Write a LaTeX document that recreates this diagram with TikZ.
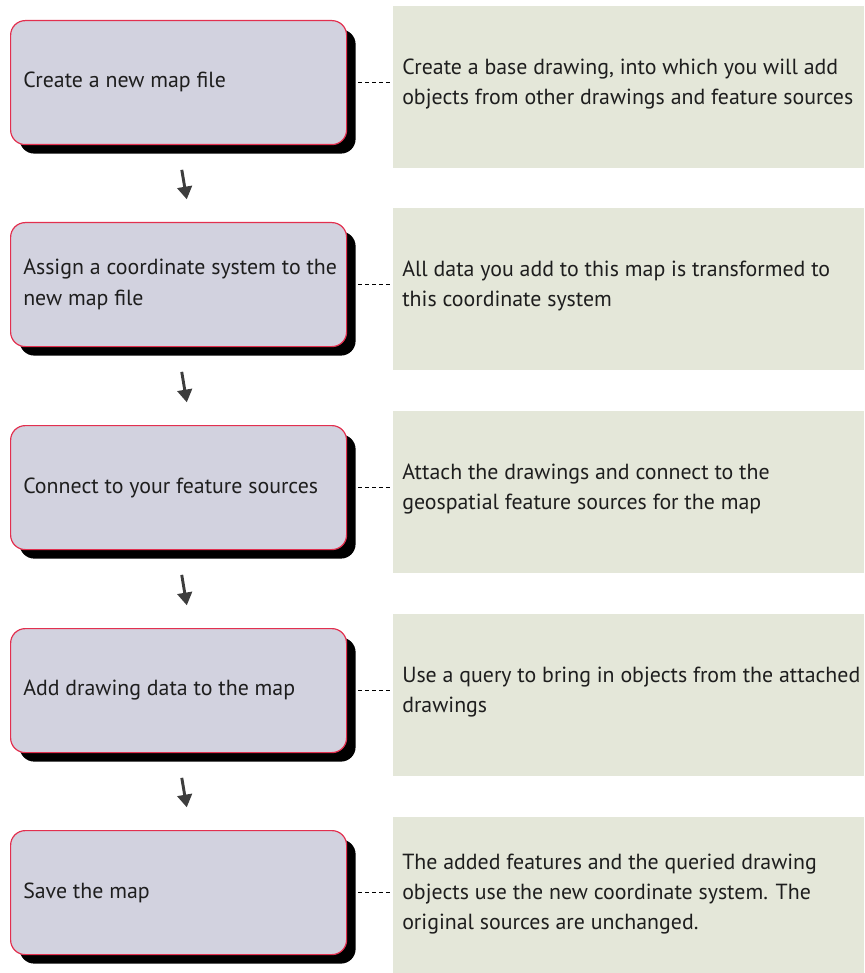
\documentclass[tikz,border=0pt]{standalone}
\usepackage{fontspec}
\setmainfont{PT Sans}
\usetikzlibrary{arrows.meta,shadows}

\definecolor{stepfill}{HTML}{D2D2DF}
\definecolor{stepedge}{HTML}{E2304F}
\definecolor{notefill}{HTML}{E4E7D9}
\definecolor{arrowgray}{HTML}{3D3D3D}
\definecolor{inkcol}{HTML}{1E1E1E}

\tikzset{
  stepbox/.style={draw=stepedge, line width=0.9pt, fill=stepfill,
    rounded corners=11pt, minimum width=252pt, minimum height=93pt,
    anchor=north west, inner sep=0pt,
    drop shadow={shadow xshift=6.75pt, shadow yshift=-6.75pt, fill=black, opacity=1}},
  notebox/.style={fill=notefill, minimum width=353.25pt, anchor=north west, inner sep=0pt},
  boxtext/.style={anchor=west, align=left, inner sep=0pt, text=inkcol,
    font=\fontsize{16.4}{23}\selectfont},
  notetext/.style={anchor=west, align=left, inner sep=0pt, text=inkcol,
    font=\fontsize{16.4}{22.2}\selectfont},
  linkline/.style={draw=black, line width=0.75pt, dash pattern=on 3pt off 2.2pt,
    shorten <=8.25pt, shorten >=2.25pt},
  flowarrow/.style={draw=arrowgray, line width=2.2pt,
    -{Triangle[length=9.5pt, width=11pt]},
    shorten <=18.75pt, shorten >=17.25pt}
}

\begin{document}
\begin{tikzpicture}[x=0.75pt, y=-0.75pt]
\useasboundingbox (0,0) rectangle (864,973);

% explanatory panels on the right
\node[notebox, minimum height=121.5pt] (n1) at (393,6) {};
\node[notebox, minimum height=121.5pt] (n2) at (393,208) {};
\node[notebox, minimum height=121.5pt] (n3) at (393,411) {};
\node[notebox, minimum height=121.5pt] (n4) at (393,614) {};
\node[notebox, minimum height=117pt] (n5) at (393,817) {};

% workflow steps
\node[stepbox] (g1) at (10,20) {};
\node[stepbox] (g2) at (10,222) {};
\node[stepbox] (g3) at (10,425) {};
\node[stepbox] (g4) at (10,628) {};
\node[stepbox] (g5) at (10,830) {};

% step labels
\node[boxtext] (t1) at (23,82) {Create a new map file};
\node[boxtext] (t2) at (23,284.5) {Assign a coordinate system to the\\new map file};
\node[boxtext] (t3) at (23,487.5) {Connect to your feature sources};
\node[boxtext] (t4) at (23,690) {Add drawing data to the map};
\node[boxtext] (t5) at (23,892.5) {Save the map};

% panel texts
\node[notetext] (d1) at (402,84) {Create a base drawing, into which you will add\\objects from other drawings and feature sources};
\node[notetext] (d2) at (402,286) {All data you add to this map is transformed to\\this coordinate system};
\node[notetext] (d3) at (402,489) {Attach the drawings and connect to the\\geospatial feature sources for the map};
\node[notetext] (d4) at (402,692) {Use a query to bring in objects from the attached\\drawings};
\node[notetext] (d5) at (402,894) {The added features and the queried drawing\\objects use the new coordinate system. The\\original sources are unchanged.};

% dashed links from each step to its panel
\draw[linkline] (g1.east) -- (n1.west |- g1.east);
\draw[linkline] (g2.east) -- (n2.west |- g2.east);
\draw[linkline] (g3.east) -- (n3.west |- g3.east);
\draw[linkline] (g4.east) -- (n4.west |- g4.east);
\draw[linkline] (g5.east) -- (n5.west |- g5.east);

% flow arrows between steps
\draw[flowarrow] ([xshift=-0.75pt]g1.south) -- ([xshift=9pt]g2.north);
\draw[flowarrow] ([xshift=-0.75pt]g2.south) -- ([xshift=9pt]g3.north);
\draw[flowarrow] ([xshift=-0.75pt]g3.south) -- ([xshift=9pt]g4.north);
\draw[flowarrow] ([xshift=-0.75pt]g4.south) -- ([xshift=9pt]g5.north);
\end{tikzpicture}
\end{document}
